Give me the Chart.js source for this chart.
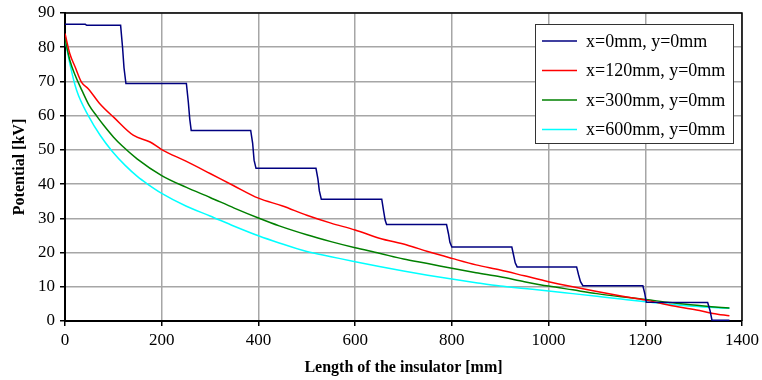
<!DOCTYPE html>
<html>
<head>
<meta charset="utf-8">
<script src="https://cdn.jsdelivr.net/npm/chart.js@4/dist/chart.umd.min.js"></script>
<style>
  html, body { margin: 0; padding: 0; background: #fff; }
  #wrap { width: 762px; height: 380px; }
</style>
</head>
<body>
<div id="wrap"><canvas id="potentialChart"></canvas></div>
<script>
// series labels
const seriesNames = ['x=0mm, y=0mm', 'x=120mm, y=0mm', 'x=300mm, y=0mm', 'x=600mm, y=0mm'];
const seriesColors = ['#000080', '#ff0000', '#008000', '#00ffff'];

// x=0mm : stepped curve
const len0 = [0, 42, 45, 115, 119, 122, 126, 251, 255, 258, 261, 384, 388, 391, 395, 519, 523, 526, 530,
  655, 659, 662, 665, 789, 793, 796, 800, 924, 928, 931, 935, 1058, 1062, 1066, 1071, 1195, 1199, 1202,
  1329, 1334, 1338, 1374];
const pot0 = [86.7, 86.7, 86.4, 86.4, 80, 74, 69.4, 69.4, 64, 59, 55.7, 55.7, 52, 47, 44.6, 44.6, 41.5, 38, 35.6,
  35.6, 32, 29.5, 28.2, 28.2, 25.5, 23, 21.6, 21.6, 19, 17, 15.8, 15.8, 13.5, 11.5, 10.3, 10.3, 8, 5.5,
  5.4, 3, 0.2, 0.2];

// x=120mm
const len120 = [0, 10, 21, 34, 48, 72, 101, 141, 176, 200, 250, 300, 348, 400, 450, 500,
  550, 600, 650, 707, 750, 800, 850, 900, 950, 1000, 1050, 1100, 1150, 1201, 1250, 1306, 1340, 1374];
const pot120 = [84, 78.1, 74.2, 69.8, 67.9, 63.5, 59.5, 54.3, 52.3, 50.1, 46.7, 43.1, 39.6, 35.9, 33.6, 30.9,
  28.6, 26.6, 24.2, 22.2, 20.3, 18.3, 16.4, 14.9, 13.2, 11.5, 10, 8.6, 7.3, 6.1, 4.6, 3.2, 2.2, 1.5];

// x=300mm
const len300 = [0, 10, 21, 35, 50, 66, 80, 100, 118, 149, 200, 250, 300, 350, 400, 443, 500, 550, 600, 650, 700,
  750, 800, 850, 900, 950, 1000, 1050, 1100, 1150, 1201, 1250, 1300, 1351, 1374];
const pot300 = [82.5, 76.2, 71.8, 67.4, 63, 59.8, 57.2, 53.8, 51.2, 47.4, 42.5, 39.1, 36.1, 33, 30.1, 27.8, 25.2, 23.2, 21.4, 19.8, 18.1,
  16.8, 15.4, 14.1, 12.9, 11.5, 10.2, 9.1, 8, 7.1, 6.3, 5.4, 4.7, 4, 3.8];

// x=600mm
const len600 = [0, 10, 24, 49, 73, 97, 125, 150, 170, 200, 250, 300, 350, 400, 443, 500, 550, 600, 650, 700, 750, 800, 850,
  900, 950, 1000, 1050, 1100, 1150, 1201, 1250, 1300, 1374];
const pot600 = [82.5, 75.2, 67.4, 59.8, 54.2, 49.7, 45.4, 42.2, 40.1, 37.3, 33.6, 30.7, 27.7, 24.9, 22.8, 20.3, 18.8, 17.3, 15.9, 14.6, 13.4, 12.3, 11.2,
  10.2, 9.5, 8.8, 8, 7.2, 6.4, 5.6, 4.9, 4.3, 3.7];

const xTicks = [0, 200, 400, 600, 800, 1000, 1200, 1400];
const yTicks = [0, 10, 20, 30, 40, 50, 60, 70, 80, 90];

function toPoints(xs, ys) {
  return xs.map((x, i) => ({ x: x, y: ys[i] }));
}

const allLens = [len0, len120, len300, len600];
const allPots = [pot0, pot120, pot300, pot600];

const serif = "'Liberation Serif', 'Times New Roman', serif";

// black frame + legend box in the upper right of the plot
const framePlugin = {
  id: 'frame',
  afterDraw(chart) {
    const ctx = chart.ctx;
    const a = chart.chartArea;
    ctx.save();
    ctx.strokeStyle = '#000';
    ctx.lineWidth = 1.5;
    ctx.beginPath();
    ctx.moveTo(a.left, a.top);
    ctx.lineTo(a.right, a.top);
    ctx.lineTo(a.right, a.bottom);
    ctx.stroke();

    const bx = a.right - 207, by = a.top + 11, bw = 198, bh = 119;
    ctx.fillStyle = '#fff';
    ctx.fillRect(bx, by, bw, bh);
    ctx.strokeStyle = '#333';
    ctx.lineWidth = 1;
    ctx.strokeRect(bx + 0.5, by + 0.5, bw, bh);
    ctx.font = '18px ' + serif;
    ctx.textBaseline = 'middle';
    chart.data.datasets.forEach((ds, i) => {
      const yy = by + 17 + i * 29.5;
      ctx.strokeStyle = ds.borderColor;
      ctx.lineWidth = 1.5;
      ctx.beginPath();
      ctx.moveTo(bx + 7, yy);
      ctx.lineTo(bx + 42, yy);
      ctx.stroke();
      ctx.fillStyle = '#000';
      ctx.fillText(ds.label, bx + 51, yy + 1);
    });
    ctx.restore();
  }
};

const ctx = document.getElementById('potentialChart').getContext('2d');
const potentialChart = new Chart(ctx, {
  type: 'line',
  data: {
    datasets: seriesNames.map((name, i) => ({
      label: name,
      data: toPoints(allLens[i], allPots[i]),
      borderColor: seriesColors[i],
      borderWidth: 1.5,
      pointRadius: 0,
      cubicInterpolationMode: i === 0 ? 'default' : 'monotone',
      tension: i === 0 ? 0 : 0.4,
      fill: false,
    }))
  },
  options: {
    responsive: true,
    maintainAspectRatio: false,
    animation: false,
    layout: { padding: { top: 13, right: 20, left: 0, bottom: 0 } },
    plugins: {
      legend: { display: false },
      tooltip: { enabled: false },
    },
    scales: {
      x: {
        type: 'linear',
        min: 0,
        max: 1400,
        afterBuildTicks: s => { s.ticks = xTicks.map(v => ({ value: v })); },
        afterFit: s => { s.height = 59; s.paddingLeft = 0; s.paddingRight = 0; },
        ticks: { color: '#000', font: { family: serif, size: 17 }, padding: 4, maxRotation: 0, callback: v => String(v) },
        grid: { color: '#a6a6a6', lineWidth: 1.5, tickColor: '#000', tickLength: 5 },
        border: { color: '#000', width: 2 },
        title: {
          display: true,
          text: 'Length of the insulator [mm]',
          color: '#000',
          font: { family: serif, size: 16, weight: 'bold' },
          padding: { top: 0, bottom: 3 },
        },
      },
      y: {
        min: 0,
        max: 90,
        afterBuildTicks: s => { s.ticks = yTicks.map(v => ({ value: v })); },
        afterFit: s => { s.width = 65; s.paddingTop = 0; s.paddingBottom = 0; },
        ticks: { color: '#000', font: { family: serif, size: 17 }, padding: 5, callback: v => String(v) },
        grid: { color: '#a6a6a6', lineWidth: 1.5, tickColor: '#000', tickLength: 5 },
        border: { color: '#000', width: 2 },
        title: {
          display: true,
          text: 'Potential [kV]',
          color: '#000',
          font: { family: serif, size: 16, weight: 'bold' },
          padding: { top: 10, bottom: 0 },
        },
      },
    },
  },
  plugins: [framePlugin],
});
</script>
</body>
</html>
